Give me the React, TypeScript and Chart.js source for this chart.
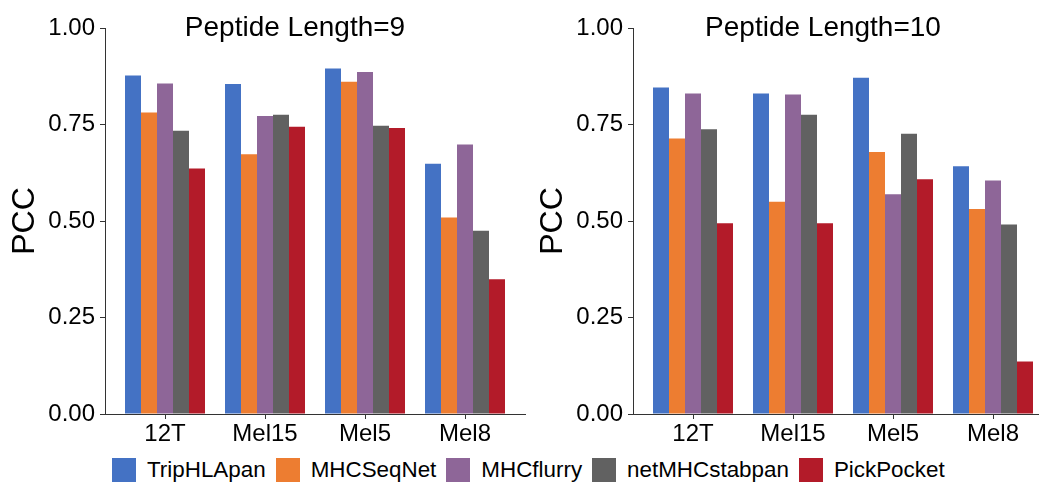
import React, { useEffect, useRef } from "react";
import { Chart, registerables } from "chart.js";

Chart.register(...registerables);

const categories = ["12T", "Mel15", "Mel5", "Mel8"];
const models = ["TripHLApan", "MHCSeqNet", "MHCflurry", "netMHCstabpan", "PickPocket"];
const colors = ["#4472C4", "#ED7D31", "#8E6698", "#616161", "#B31B29"];
const yTicks = [0, 0.25, 0.5, 0.75, 1.0];

// Peptide length 9
const tripHLApan9 = [0.877, 0.855, 0.895, 0.648];
const mhcSeqNet9 = [0.781, 0.673, 0.861, 0.509];
const mhcFlurry9 = [0.856, 0.772, 0.886, 0.698];
const netMHCstabpan9 = [0.734, 0.775, 0.747, 0.475];
const pickPocket9 = [0.636, 0.744, 0.741, 0.349];

// Peptide length 10
const tripHLApan10 = [0.846, 0.83, 0.871, 0.642];
const mhcSeqNet10 = [0.714, 0.55, 0.679, 0.531];
const mhcFlurry10 = [0.83, 0.828, 0.569, 0.605];
const netMHCstabpan10 = [0.738, 0.775, 0.726, 0.491];
const pickPocket10 = [0.494, 0.494, 0.608, 0.136];

const series9 = [tripHLApan9, mhcSeqNet9, mhcFlurry9, netMHCstabpan9, pickPocket9];
const series10 = [tripHLApan10, mhcSeqNet10, mhcFlurry10, netMHCstabpan10, pickPocket10];

const FONT = '"Liberation Sans", Arial, sans-serif';

const panelTitlePlugin = {
  id: "panelTitle",
  afterDraw(chart: any, _args: any, opts: any) {
    const ctx = chart.ctx;
    ctx.save();
    ctx.font = `28px ${FONT}`;
    ctx.fillStyle = "#000";
    ctx.textAlign = "center";
    ctx.textBaseline = "alphabetic";
    ctx.fillText(opts.text, chart.width / 2, 36);
    ctx.restore();
  },
};

function Panel({ title, series, left }: { title: string; series: number[][]; left: number }) {
  const ref = useRef<HTMLCanvasElement>(null);
  useEffect(() => {
    if (!ref.current) return;
    const chart = new Chart(ref.current, {
      type: "bar",
      data: {
        datasets: series.map((vals, k) => ({
          label: models[k],
          data: vals.map((v, i) => ({ x: i + 1, y: v })),
          backgroundColor: colors[k],
          borderWidth: 0,
          categoryPercentage: 0.8,
          barPercentage: 1.0,
        })),
      },
      options: {
        animation: false,
        responsive: false,
        events: [],
        layout: { padding: { top: 28, right: 65, left: 0, bottom: 0 } },
        plugins: {
          legend: { display: false },
          tooltip: { enabled: false },
          title: { display: false },
          panelTitle: { text: title },
        } as any,
        scales: {
          x: {
            type: "linear",
            min: 0.4,
            max: 4.6,
            offset: false,
            afterBuildTicks: (scale: any) => {
              scale.ticks = categories.map((_, i) => ({ value: i + 1 }));
            },
            afterFit: (scale: any) => {
              scale.height = 36;
            },
            ticks: {
              autoSkip: false,
              maxRotation: 0,
              callback: (v: any) => categories[Number(v) - 1] ?? "",
              font: { family: FONT, size: 24 },
              color: "#000",
              padding: 1,
            },
            grid: {
              display: true,
              offset: false,
              drawOnChartArea: false,
              drawTicks: true,
              tickLength: 5,
              color: "#333",
            },
            border: { display: true, color: "#333", width: 1 },
          },
          y: {
            min: 0,
            max: 1,
            afterBuildTicks: (scale: any) => {
              scale.ticks = yTicks.map((v) => ({ value: v }));
            },
            afterFit: (scale: any) => {
              scale.width = 105;
            },
            ticks: {
              callback: (v: any) => Number(v).toFixed(2),
              font: { family: FONT, size: 24 },
              color: "#000",
              padding: 5,
            },
            grid: { display: true, drawOnChartArea: false, drawTicks: true, tickLength: 5, color: "#333" },
            border: { display: true, color: "#333", width: 1 },
            title: {
              display: true,
              text: "PCC",
              font: { family: FONT, size: 32, lineHeight: 1.2 },
              color: "#000",
              padding: { top: 6, bottom: 0 },
            },
          },
        },
      },
      plugins: [panelTitlePlugin],
    });
    return () => chart.destroy();
  }, []);
  return (
    <canvas
      ref={ref}
      width={590}
      height={450}
      style={{ position: "absolute", left, top: 0, width: 590, height: 450 }}
    />
  );
}

export default function App() {
  return (
    <div
      style={{
        position: "fixed",
        left: 0,
        top: 0,
        width: 1039,
        height: 484,
        overflow: "hidden",
        background: "#fff",
      }}
    >
      <Panel title="Peptide Length=9" series={series9} left={0} />
      <Panel title="Peptide Length=10" series={series10} left={528} />
      <div
        style={{
          position: "absolute",
          left: 112,
          top: 457,
          display: "flex",
          alignItems: "center",
          fontFamily: FONT,
          fontSize: 22.4,
          color: "#000",
          whiteSpace: "nowrap",
        }}
      >
        {models.map((m, k) => (
          <div key={m} style={{ display: "flex", alignItems: "center", marginRight: 10 }}>
            <span
              style={{ display: "inline-block", width: 24, height: 24, background: colors[k], marginRight: 11 }}
            />
            <span>{m}</span>
          </div>
        ))}
      </div>
    </div>
  );
}
